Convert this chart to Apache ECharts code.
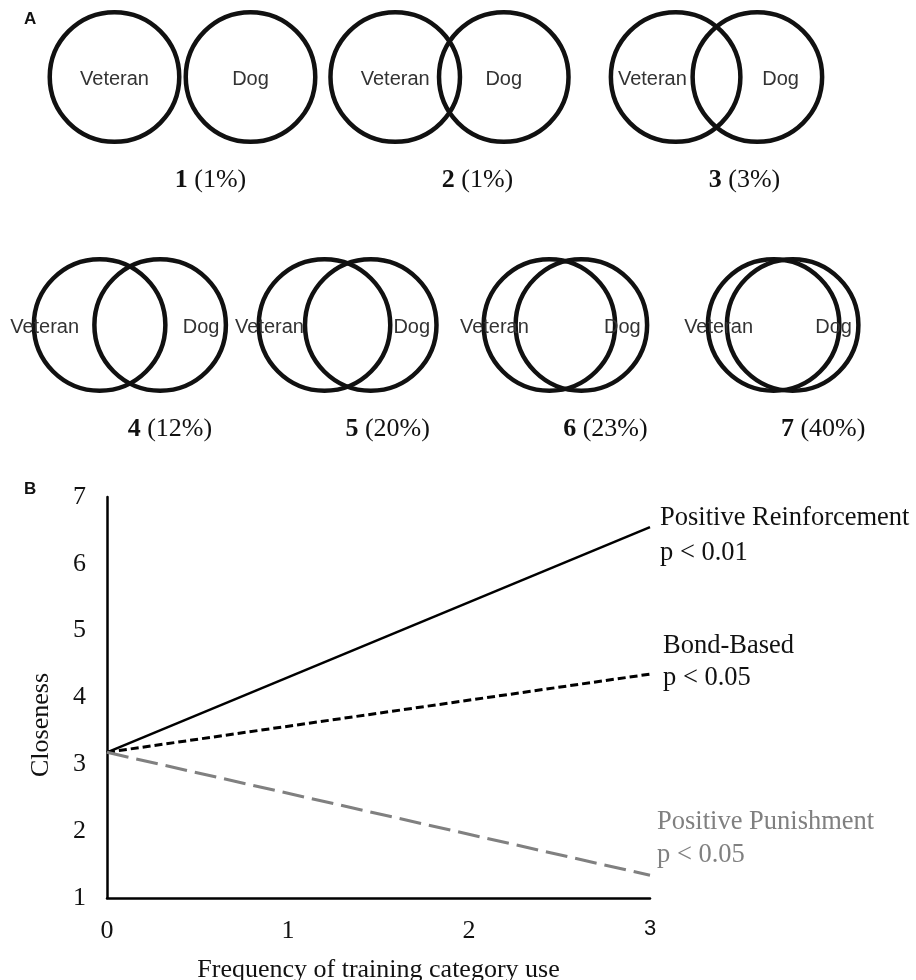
<!DOCTYPE html>
<html>
<head>
<meta charset="utf-8">
<script src="https://cdn.jsdelivr.net/npm/echarts@6/dist/echarts.min.js"></script>
<style>
html,body{margin:0;padding:0;background:#fff;}
#chart{width:916px;height:980px;}
</style>
</head>
<body>
<div id="chart"></div>
<script>
// ---- Panel A data: Inclusion-of-Other-in-Self pictograms ----
const iosLevels = [1, 2, 3, 4, 5, 6, 7];
const iosPercent = [1, 1, 3, 12, 20, 23, 40];
// distance between circle centres as a fraction of circle diameter
const iosSeparation = [1.015, 0.81, 0.61, 0.445, 0.34, 0.235, 0.14];
const iosRow = [0, 0, 0, 1, 1, 1, 1];
const circleNames = ['Veteran', 'Dog'];

// ---- Panel B data ----
const freqX = [0, 3];
const reinforcement = [3.18, 6.55];
const bondBased = [3.18, 4.35];
const punishment = [3.18, 1.34];
const seriesNames = ['Positive Reinforcement', 'Bond-Based', 'Positive Punishment'];
const pLabels = ['p < 0.01', 'p < 0.05', 'p < 0.05'];

const SERIF = '"Liberation Serif", "Times New Roman", serif';
const SANS = '"Liberation Sans", Arial, sans-serif';

function rowData(row) {
  const out = [];
  let k = 0;
  iosLevels.forEach((lv, i) => {
    if (iosRow[i] === row) {
      out.push([k, iosSeparation[i], lv, iosPercent[i], iosRow[i]]);
      k++;
    }
  });
  return out;
}
function rowCats(row) {
  return iosLevels.filter((lv, i) => iosRow[i] === row).map(String);
}

function renderVenn(params, api) {
  const idx = api.value(0);
  const sep = api.value(1);
  const level = api.value(2);
  const pct = api.value(3);
  const row = api.value(4);
  const c = api.coord([idx, 0.5]);
  const R = api.size([0, 1])[1] / 2;
  const lw = 4.5;
  const r = R - lw / 2;
  const d = sep * 2 * R;
  const lx = c[0] - d / 2, rx = c[0] + d / 2;
  const leftEdge = lx - R, rightEdge = rx + R;
  const dogLeftEdge = rx - R, vetRightEdge = lx + R;
  let vx = Math.min(lx, dogLeftEdge - 38);
  if (vx - 35 < leftEdge - 2) vx = leftEdge + 13;
  let gx = Math.max(rx, vetRightEdge + 38);
  if (gx + 18.5 > rightEdge - 5) gx = rightEdge - 27;
  const circ = (cx) => ({
    type: 'circle',
    shape: { cx: cx, cy: c[1], r: r },
    style: { fill: 'none', stroke: '#111', lineWidth: lw }
  });
  const label = (x, t) => ({
    type: 'text', x: x, y: c[1] + 2,
    style: {
      text: t, fill: '#333', fontSize: 20, fontFamily: SANS,
      align: 'center', verticalAlign: 'middle',
      textAlign: 'center', textVerticalAlign: 'middle'
    }
  });
  const captionShift = row === 0 ? 28 : 40;
  return {
    type: 'group',
    children: [
      circ(lx), circ(rx),
      label(vx, circleNames[0]), label(gx, circleNames[1]),
      {
        type: 'text', x: c[0] + captionShift, y: c[1] + R + 36,
        style: {
          text: '{b|' + level + '} (' + pct + '%)',
          fill: '#111', fontSize: 26, fontFamily: SERIF,
          align: 'center', verticalAlign: 'middle',
          textAlign: 'center', textVerticalAlign: 'middle',
          rich: { b: { fontWeight: 'bold', fontSize: 26, fontFamily: SERIF, fill: '#111' } }
        }
      }
    ]
  };
}

const chart = echarts.init(document.getElementById('chart'), null, { renderer: 'canvas' });

const tickFont = { fontFamily: SERIF, fontSize: 26, color: '#111' };

const option = {
  animation: false,
  backgroundColor: '#fff',
  grid: [
    { left: 49, right: 66, top: 10, height: 134, containLabel: false, outerBoundsMode: 'none' },
    { left: 21, right: 24, top: 257, height: 136, containLabel: false, outerBoundsMode: 'none' },
    { left: 107, right: 266, top: 497, bottom: 82, containLabel: false, outerBoundsMode: 'none' }
  ],
  xAxis: [
    { gridIndex: 0, type: 'category', data: rowCats(0), show: false },
    { gridIndex: 1, type: 'category', data: rowCats(1), show: false },
    {
      gridIndex: 2, type: 'value', min: 0, max: 3, interval: 1,
      axisLine: { show: true, lineStyle: { color: '#000', width: 2.5 } },
      axisTick: { show: false },
      splitLine: { show: false },
      axisLabel: Object.assign({ margin: 20,
        formatter: v => v === 3 ? '{s|3}' : String(v),
        rich: { s: { fontFamily: SANS, fontSize: 22, color: '#111' } } }, tickFont),
      name: 'Frequency of training category use',
      nameLocation: 'middle', nameGap: 59,
      nameTextStyle: { fontFamily: SERIF, fontSize: 26, color: '#111' }
    }
  ],
  yAxis: [
    { gridIndex: 0, type: 'value', min: 0, max: 1, show: false },
    { gridIndex: 1, type: 'value', min: 0, max: 1, show: false },
    {
      gridIndex: 2, type: 'value', min: 1, max: 7, interval: 1,
      axisLine: { show: true, lineStyle: { color: '#000', width: 2.5 } },
      axisTick: { show: false },
      splitLine: { show: false },
      axisLabel: Object.assign({ margin: 21 }, tickFont)
    }
  ],
  graphic: [
    { type: 'text', left: 24, top: 11, style: { text: 'A', font: 'bold 17px ' + SANS, fill: '#111' } },
    { type: 'text', left: 24, top: 481, style: { text: 'B', font: 'bold 17px ' + SANS, fill: '#111' } },
    {
      type: 'text', x: 41, y: 725, rotation: Math.PI / 2,
      style: { text: 'Closeness', font: '26px ' + SERIF, fill: '#111',
        textAlign: 'center', textVerticalAlign: 'middle', align: 'center', verticalAlign: 'middle' }
    }
  ],
  series: [
    { type: 'custom', xAxisIndex: 0, yAxisIndex: 0, data: rowData(0), renderItem: renderVenn, clip: false, silent: true },
    { type: 'custom', xAxisIndex: 1, yAxisIndex: 1, data: rowData(1), renderItem: renderVenn, clip: false, silent: true },
    {
      name: seriesNames[0], type: 'line', xAxisIndex: 2, yAxisIndex: 2,
      data: freqX.map((x, i) => [x, reinforcement[i]]),
      symbol: 'none', clip: false, silent: true,
      lineStyle: { color: '#000', width: 2.5, type: 'solid' },
      endLabel: { show: true, formatter: seriesNames[0] + '\n' + pLabels[0], distance: 10, offset: [0, 8],
        fontFamily: SERIF, fontSize: 26.5, lineHeight: 35, color: '#111' }
    },
    {
      name: seriesNames[1], type: 'line', xAxisIndex: 2, yAxisIndex: 2,
      data: freqX.map((x, i) => [x, bondBased[i]]),
      symbol: 'none', clip: false, silent: true,
      lineStyle: { color: '#000', width: 3, type: [8, 4] },
      endLabel: { show: true, formatter: seriesNames[1] + '\n' + pLabels[1], distance: 13, offset: [0, -12],
        fontFamily: SERIF, fontSize: 26.5, lineHeight: 32, color: '#111' }
    },
    {
      name: seriesNames[2], type: 'line', xAxisIndex: 2, yAxisIndex: 2,
      data: freqX.map((x, i) => [x, punishment[i]]),
      symbol: 'none', clip: false, silent: true,
      lineStyle: { color: '#808080', width: 3, type: [22, 8] },
      endLabel: { show: true, formatter: seriesNames[2] + '\n' + pLabels[2], distance: 7, offset: [0, -37],
        fontFamily: SERIF, fontSize: 26.5, lineHeight: 33, color: '#808080' }
    }
  ]
};
chart.setOption(option);
</script>
</body>
</html>
